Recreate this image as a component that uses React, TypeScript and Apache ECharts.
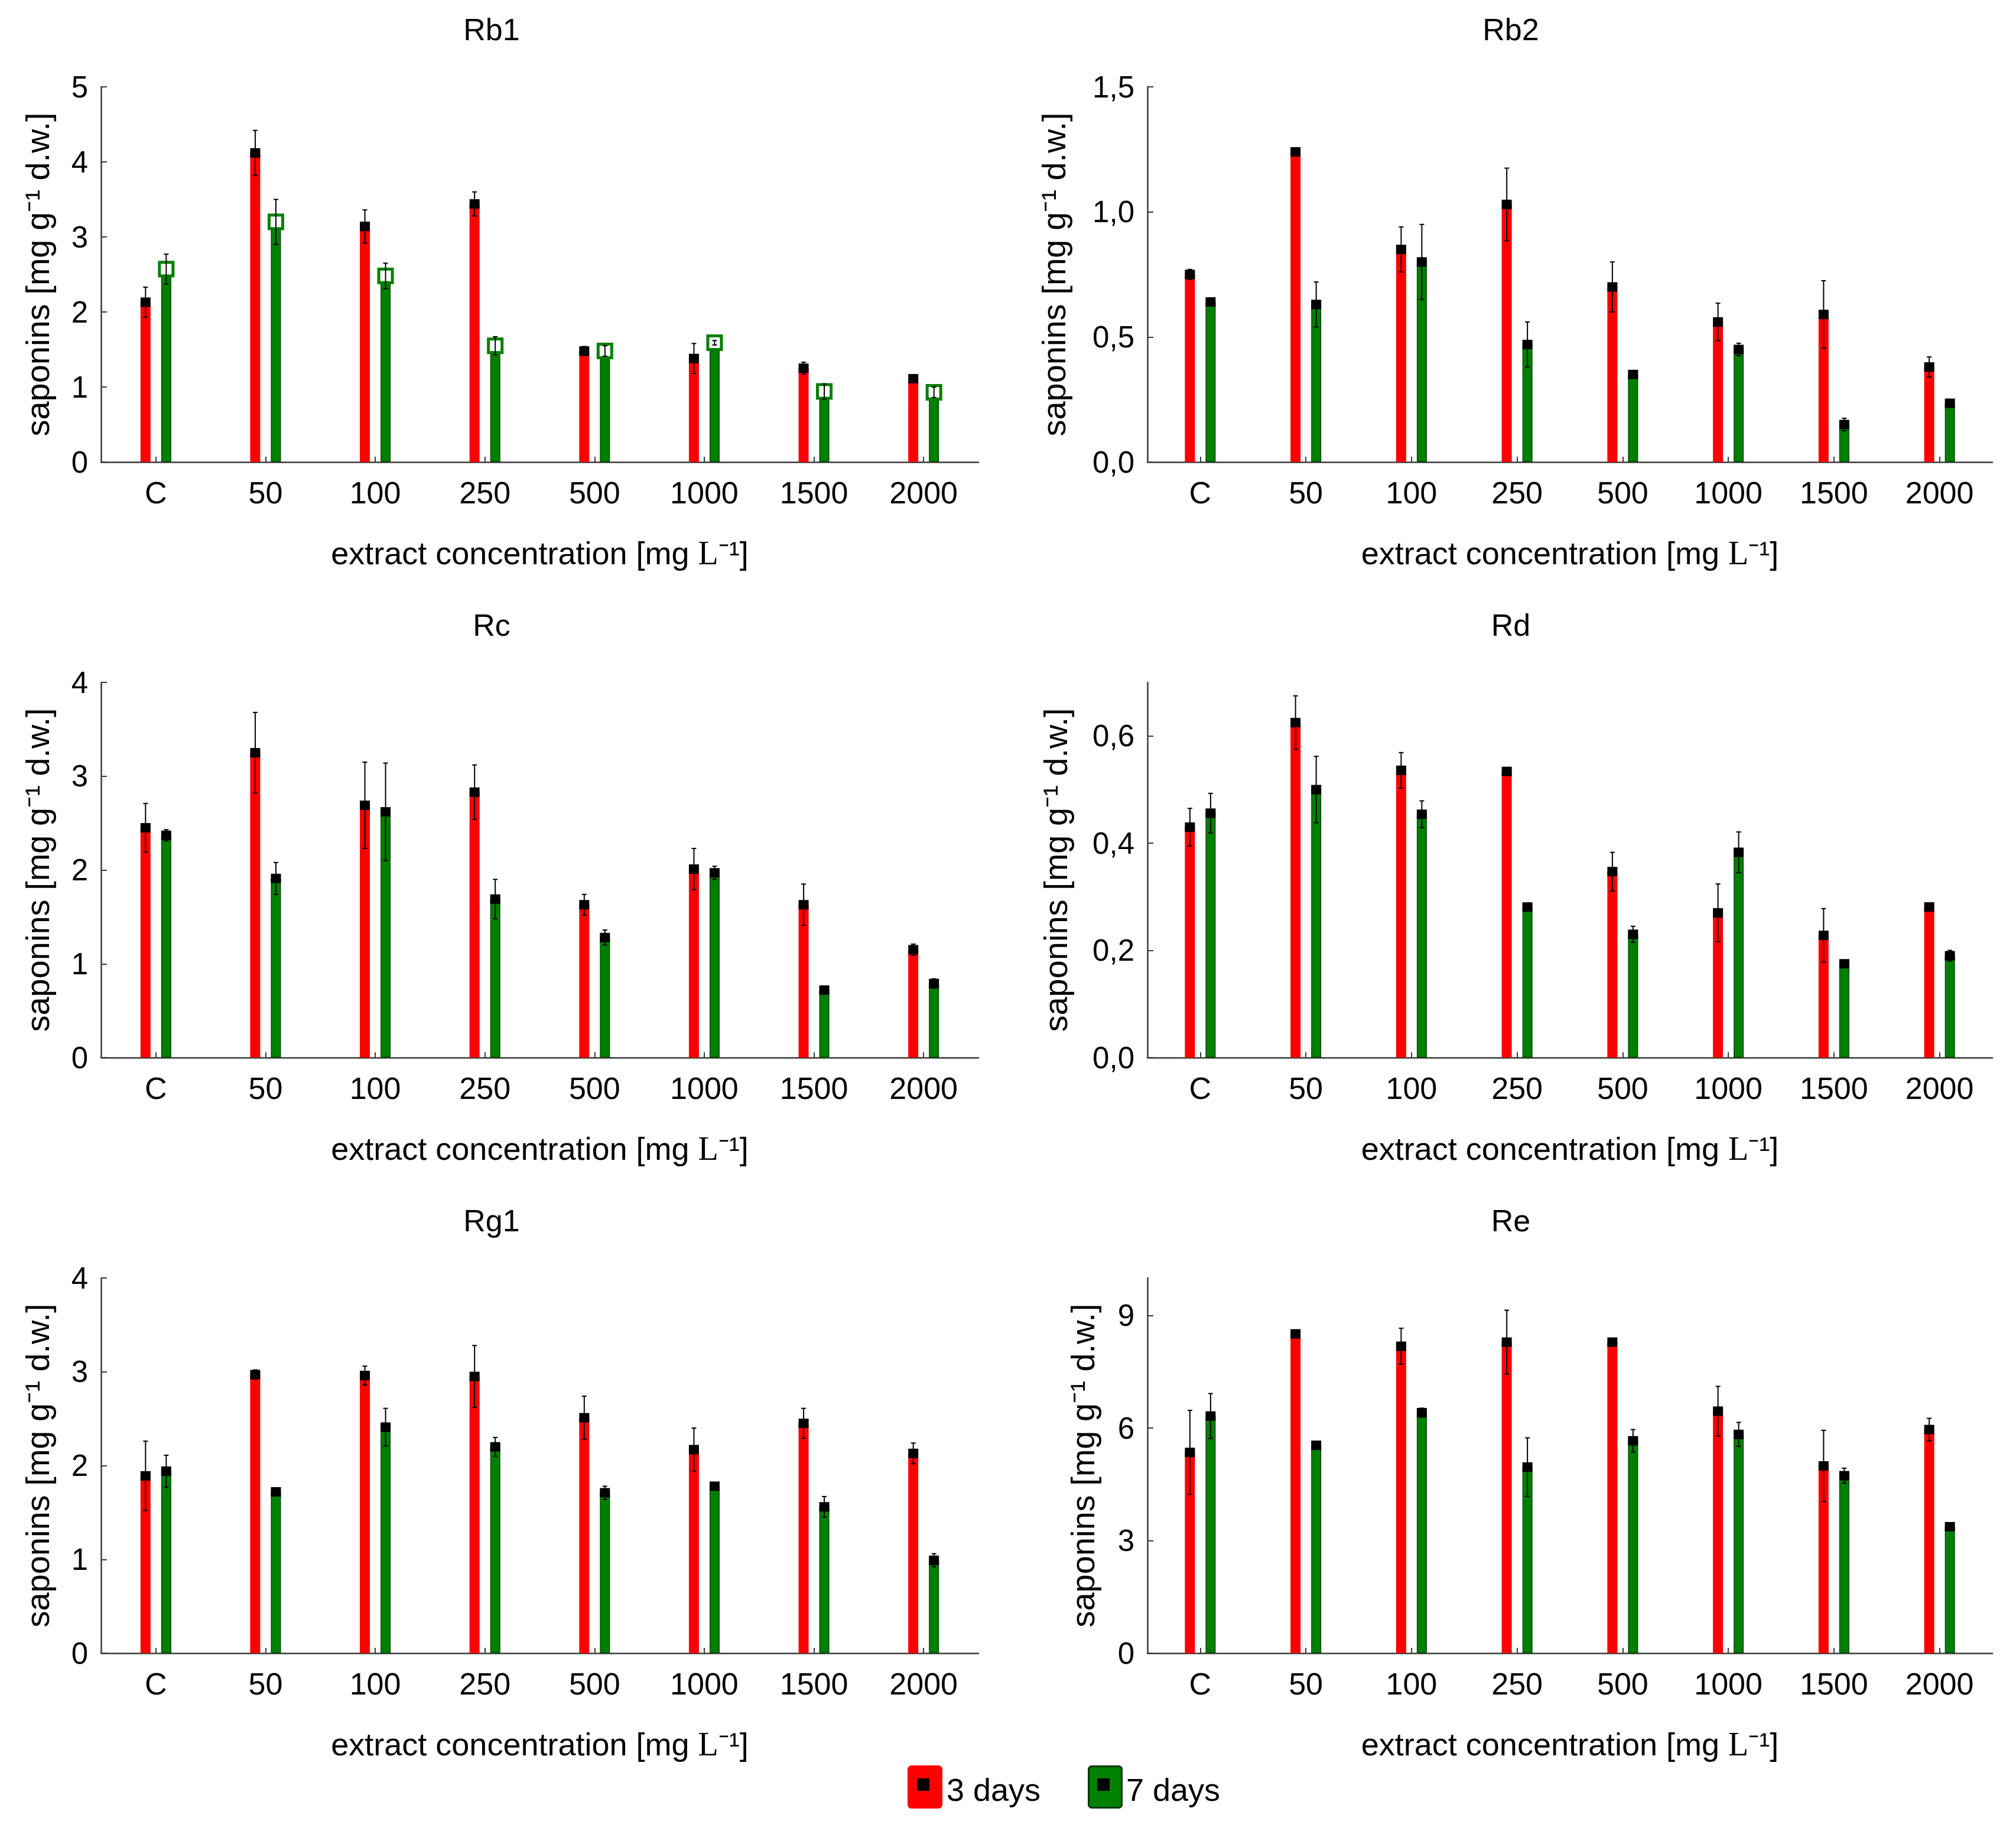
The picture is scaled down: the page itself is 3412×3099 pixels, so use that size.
import React, { useEffect, useRef } from 'react';
import * as echarts from 'echarts';

const categories = ['C', '50', '100', '250', '500', '1000', '1500', '2000'];
const seriesNames = ['3 days', '7 days'];

const rb1Day3 = [2.13, 4.12, 3.14, 3.44, 1.48, 1.38, 1.25, 1.11];
const rb1Day3Err = [0.2, 0.3, 0.22, 0.16, 0.06, 0.2, 0.08, 0.05];
const rb1Day7 = [2.57, 3.2, 2.48, 1.55, 1.48, 1.59, 0.94, 0.93];
const rb1Day7Err = [0.2, 0.3, 0.17, 0.12, 0.07, 0.03, 0.1, 0.07];

const rb2Day3 = [0.75, 1.24, 0.85, 1.03, 0.7, 0.56, 0.59, 0.38];
const rb2Day3Err = [0.02, 0.01, 0.09, 0.145, 0.1, 0.075, 0.135, 0.04];
const rb2Day7 = [0.64, 0.63, 0.8, 0.47, 0.35, 0.45, 0.15, 0.235];
const rb2Day7Err = [0.01, 0.09, 0.15, 0.09, 0.01, 0.025, 0.025, 0.015];

const rcDay3 = [2.45, 3.25, 2.69, 2.83, 1.63, 2.01, 1.63, 1.15];
const rcDay3Err = [0.26, 0.43, 0.46, 0.29, 0.11, 0.22, 0.22, 0.06];
const rcDay7 = [2.37, 1.91, 2.62, 1.69, 1.28, 1.97, 0.72, 0.79];
const rcDay7Err = [0.06, 0.17, 0.52, 0.21, 0.08, 0.07, 0.03, 0.05];

const rdDay3 = [0.43, 0.625, 0.536, 0.534, 0.347, 0.27, 0.228, 0.281];
const rdDay3Err = [0.035, 0.05, 0.033, 0.005, 0.036, 0.054, 0.05, 0.004];
const rdDay7 = [0.456, 0.5, 0.454, 0.281, 0.23, 0.383, 0.175, 0.19];
const rdDay7Err = [0.037, 0.062, 0.025, 0.005, 0.015, 0.038, 0.007, 0.01];

const rg1Day3 = [1.89, 2.97, 2.96, 2.95, 2.51, 2.17, 2.45, 2.13];
const rg1Day3Err = [0.37, 0.05, 0.1, 0.33, 0.23, 0.23, 0.16, 0.11];
const rg1Day7 = [1.94, 1.72, 2.41, 2.2, 1.71, 1.78, 1.56, 0.99];
const rg1Day7Err = [0.17, 0.03, 0.2, 0.1, 0.07, 0.03, 0.11, 0.07];

const reDay3 = [5.35, 8.51, 8.18, 8.29, 8.29, 6.45, 4.99, 5.96];
const reDay3Err = [1.12, 0.08, 0.48, 0.85, 0.1, 0.66, 0.95, 0.3];
const reDay7 = [6.32, 5.54, 6.41, 4.96, 5.66, 5.83, 4.73, 3.37];
const reDay7Err = [0.6, 0.06, 0.12, 0.78, 0.3, 0.32, 0.2, 0.1];

const rb1Ticks = [0, 1, 2, 3, 4, 5];
const rb2Ticks = [0, 0.5, 1.0, 1.5];
const rcTicks = [0, 1, 2, 3, 4];
const rdTicks = [0, 0.2, 0.4, 0.6];
const rg1Ticks = [0, 1, 2, 3, 4];
const reTicks = [0, 3, 6, 9];

const FONT = 'Arial, "Liberation Sans", sans-serif';
const RED = '#ff0000';
const GREEN = '#008000';
const AXIS = '#3a3a3a';

type Panel = {
  title: string;
  d3: number[]; e3: number[]; d7: number[]; e7: number[];
  max: number; ticks: number[]; decimals: number;
  col: number; row: number; yNameGap: number; hollow7?: boolean;
};

const panels: Panel[] = [
  { title: 'Rb1', d3: rb1Day3, e3: rb1Day3Err, d7: rb1Day7, e7: rb1Day7Err, max: 5, ticks: rb1Ticks, decimals: 0, col: 0, row: 0, yNameGap: 80, hollow7: true },
  { title: 'Rb2', d3: rb2Day3, e3: rb2Day3Err, d7: rb2Day7, e7: rb2Day7Err, max: 1.5, ticks: rb2Ticks, decimals: 1, col: 1, row: 0, yNameGap: 131 },
  { title: 'Rc', d3: rcDay3, e3: rcDay3Err, d7: rcDay7, e7: rcDay7Err, max: 4, ticks: rcTicks, decimals: 0, col: 0, row: 1, yNameGap: 80 },
  { title: 'Rd', d3: rdDay3, e3: rdDay3Err, d7: rdDay7, e7: rdDay7Err, max: 0.7, ticks: rdTicks, decimals: 1, col: 1, row: 1, yNameGap: 128 },
  { title: 'Rg1', d3: rg1Day3, e3: rg1Day3Err, d7: rg1Day7, e7: rg1Day7Err, max: 4, ticks: rg1Ticks, decimals: 0, col: 0, row: 2, yNameGap: 80 },
  { title: 'Re', d3: reDay3, e3: reDay3Err, d7: reDay7, e7: reDay7Err, max: 10, ticks: reTicks, decimals: 0, col: 1, row: 2, yNameGap: 82 },
];

const colLeft = [163, 1934];
const colWidth = [1485, 1430];
const colTitleX = [824, 2549];
const rowTop = [139, 1147, 2155];
const rowTitleY = [44, 1052, 2060];
const gridHeight = 635;

const BAR_W = 17;
const HALF_SEP = 17.5;

function buildOption() {
  const grid: any[] = [];
  const xAxis: any[] = [];
  const yAxis: any[] = [];
  const series: any[] = [];
  const title: any[] = [];

  panels.forEach((p, i) => {
    grid.push({ left: colLeft[p.col], top: rowTop[p.row], width: colWidth[p.col], height: gridHeight, containLabel: false });
    title.push({
      text: p.title,
      left: colTitleX[p.col],
      top: rowTitleY[p.row] - 28,
      textAlign: 'center',
      padding: 0,
      textStyle: { fontFamily: FONT, fontSize: 52, fontWeight: 'normal', color: '#000' },
    });
    xAxis.push({
      type: 'category',
      gridIndex: i,
      data: categories,
      boundaryGap: true,
      axisLine: { show: true, lineStyle: { color: AXIS, width: 2.5 } },
      axisTick: { show: true, inside: true, alignWithLabel: true, length: 9, lineStyle: { color: AXIS, width: 2 } },
      axisLabel: { fontFamily: FONT, fontSize: 52, color: '#000', margin: 26 },
      name: 'extract concentration [mg {l|L}⁻¹]',
      nameLocation: 'middle',
      nameGap: 126,
      nameTextStyle: {
        fontFamily: FONT, fontSize: 54, color: '#000',
        rich: { l: { fontFamily: '"Liberation Serif", "Times New Roman", serif', fontSize: 56, color: '#000' } },
      },
      splitLine: { show: false },
    });
    yAxis.push({
      type: 'value',
      gridIndex: i,
      min: 0,
      max: p.max,
      axisLine: { show: true, lineStyle: { color: AXIS, width: 2.5 } },
      axisTick: { show: true, inside: true, length: 10, customValues: p.ticks, lineStyle: { color: AXIS, width: 2 } },
      axisLabel: {
        fontFamily: FONT, fontSize: 51, color: '#000', margin: 22,
        customValues: p.ticks,
        formatter: (v: number) => v.toFixed(p.decimals).replace('.', ','),
      },
      splitLine: { show: false },
      name: 'saponins [mg g⁻¹ d.w.]',
      nameLocation: 'middle',
      nameRotate: 90,
      nameGap: p.yNameGap,
      nameTextStyle: { fontFamily: FONT, fontSize: 56, color: '#000' },
    });

    series.push({
      type: 'bar', name: seriesNames[0], xAxisIndex: i, yAxisIndex: i,
      data: p.d3, barWidth: BAR_W, barGap: '106%',
      itemStyle: { color: RED },
      z: 2,
    });
    series.push({
      type: 'bar', name: seriesNames[1], xAxisIndex: i, yAxisIndex: i,
      data: p.d7, barWidth: BAR_W, barGap: '106%',
      itemStyle: { color: GREEN, borderColor: '#004a00', borderWidth: 1.5 },
      z: 2,
    });

    [
      { vals: p.d3, errs: p.e3, off: -HALF_SEP, hollow: false, name: seriesNames[0] },
      { vals: p.d7, errs: p.e7, off: HALF_SEP, hollow: !!p.hollow7, name: seriesNames[1] },
    ].forEach((g) => {
      series.push({
        type: 'custom',
        name: g.name,
        xAxisIndex: i,
        yAxisIndex: i,
        z: 5,
        silent: true,
        data: g.vals.map((v, k) => [k, v, g.errs[k]]),
        encode: { x: 0, y: 1 },
        renderItem: (params: any, api: any) => {
          const k = api.value(0);
          const v = api.value(1);
          const e = api.value(2);
          const c = api.coord([k, v]);
          const x = c[0] + g.off;
          const y = c[1];
          const yt = api.coord([k, v + e])[1];
          const yb = api.coord([k, Math.max(0, v - e)])[1];
          const lineStyle = { stroke: '#000', lineWidth: 2 };
          const marker = g.hollow
            ? { type: 'rect', shape: { x: x - 11.5, y: y - 11.5, width: 23, height: 23 }, style: { fill: '#ffffff', stroke: GREEN, lineWidth: 5 } }
            : { type: 'rect', shape: { x: x - 8.5, y: y - 8, width: 17, height: 16 }, style: { fill: '#000' } };
          return {
            type: 'group',
            children: [
              marker,
              { type: 'line', shape: { x1: x, y1: yt, x2: x, y2: yb }, style: lineStyle },
              { type: 'line', shape: { x1: x - 4, y1: yt, x2: x + 4, y2: yt }, style: lineStyle },
              { type: 'line', shape: { x1: x - 4, y1: yb, x2: x + 4, y2: yb }, style: lineStyle },
            ],
          };
        },
      });
    });
  });

  const legendItems = [
    { name: seriesNames[0], boxX: 1528, textX: 1594, fill: RED, stroke: RED },
    { name: seriesNames[1], boxX: 1833, textX: 1898, fill: GREEN, stroke: '#003800' },
  ];
  const graphic: any[] = [];
  legendItems.forEach((it) => {
    graphic.push({
      type: 'rect', left: it.boxX, top: 2980,
      shape: { width: 56, height: 70, r: 5 },
      style: { fill: it.fill, stroke: it.stroke, lineWidth: 3 },
    });
    graphic.push({
      type: 'rect', left: it.boxX + 16, top: 3002,
      shape: { width: 21, height: 21 },
      style: { fill: '#000' },
    });
    graphic.push({
      type: 'text', x: it.textX, y: 3021,
      style: { text: it.name, fontFamily: FONT, fontSize: 54, fill: '#000', textVerticalAlign: 'middle', verticalAlign: 'middle' },
    });
  });

  return {
    animation: false,
    backgroundColor: '#ffffff',
    title,
    grid,
    xAxis,
    yAxis,
    series,
    graphic,
  };
}

export default function App() {
  const ref = useRef<HTMLDivElement>(null);
  useEffect(() => {
    if (!ref.current) return;
    const chart = echarts.init(ref.current, undefined, { renderer: 'svg' });
    chart.setOption(buildOption() as any);
    return () => chart.dispose();
  }, []);
  return <div ref={ref} style={{ width: 3396, height: 3083 }} />;
}
